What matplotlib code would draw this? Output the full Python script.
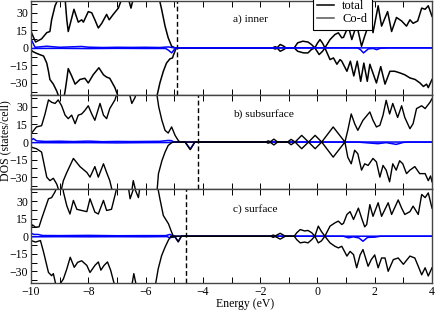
import matplotlib
matplotlib.use("Agg")
import matplotlib.pyplot as plt
from matplotlib.lines import Line2D
from matplotlib.ticker import MultipleLocator

plt.rcParams['font.family'] = ['Liberation Serif', 'DejaVu Serif']

# ---------------- data (energy eV, DOS) ----------------
# panel a) inner
a_total_up = [(-10, 14), (-9.84, 5), (-9.63, 7.7), (-9.45, 13), (-9.34, 14), (-9.28, 24), (-9.16, 36),
              (-9.05, 42), (-8.93, 50), (-8.81, 42), (-8.75, 24), (-8.70, 14), (-8.50, 33), (-8.35, 22),
              (-8.23, 24), (-8.17, 22), (-8.00, 31), (-7.88, 30), (-7.77, 24), (-7.65, 17), (-7.53, 21),
              (-7.36, 28.6), (-7.27, 24), (-7.13, 28.6), (-6.95, 34), (-6.83, 42), (-6.72, 50), (-6.60, 42),
              (-6.51, 34), (-6.43, 42), (-6.0, 60), (-5.55, 45), (-5.44, 33), (-5.32, 18.6), (-5.21, 8.6),
              (-5.09, 1.4), (-4.97, 0), (-1.56, 0), (-1.48, 1), (-1.40, 0.3), (-1.30, 2.9), (-1.18, 1.5),
              (-1.10, 0), (-0.81, 0), (-0.69, 4.3), (-0.51, 5.7), (-0.33, 5), (-0.21, 2.9), (-0.09, 0),
              (0.0, 4), (0.09, 7.1), (0.18, 4), (0.26, 0), (0.44, 7.1), (0.61, 11.4), (0.73, 12.9),
              (0.85, 8.6), (0.91, 9), (1.08, 18.6), (1.20, 7.1), (1.37, 20), (1.54, 1.4), (1.65, 10),
              (1.72, 15), (1.83, 37), (1.94, 13), (2.12, 36), (2.24, 18.6), (2.45, 31), (2.59, 14),
              (2.76, 26), (2.94, 23), (3.11, 18.6), (3.23, 24), (3.34, 21), (3.50, 23), (3.64, 34),
              (3.76, 33), (3.87, 36), (4.0, 27)]
a_total_dn = [(-10, -1.4), (-9.95, -3), (-9.84, -4.3), (-9.70, -5.7), (-9.56, -7), (-9.45, -13),
              (-9.39, -20), (-9.34, -27), (-9.22, -31), (-9.10, -37), (-8.98, -45), (-8.87, -45),
              (-8.81, -37), (-8.75, -27), (-8.70, -17.7), (-8.58, -24), (-8.46, -31), (-8.29, -27),
              (-8.12, -26), (-8.00, -30), (-7.83, -23), (-7.63, -17), (-7.47, -23), (-7.36, -25),
              (-7.25, -26), (-7.07, -34), (-6.95, -42), (-6.5, -60), (-5.8, -60), (-5.61, -42),
              (-5.50, -30), (-5.38, -20), (-5.27, -13), (-5.15, -9.4), (-5.06, -8.6), (-5.02, -5.7),
              (-4.95, -1.4), (-4.92, 0), (-1.56, 0), (-1.48, -1), (-1.40, -0.3), (-1.30, -2.9),
              (-1.18, -1.5), (-1.10, 0), (-0.81, 0), (-0.69, -2.9), (-0.48, -4.3), (-0.33, -4.3),
              (-0.21, -1.4), (-0.09, 0), (0.06, -5.7), (0.18, -2.9), (0.26, 0), (0.44, -10), (0.56, -8.6),
              (0.68, -14), (0.79, -10), (0.85, -11.4), (1.03, -20), (1.15, -11.4), (1.27, -24),
              (1.39, -11.4), (1.51, -28.6), (1.62, -13), (1.74, -28.6), (1.83, -14), (2.06, -30),
              (2.21, -16), (2.36, -31), (2.53, -20), (2.70, -20), (2.88, -21.4), (3.05, -23),
              (3.23, -25.7), (3.41, -27), (3.58, -30), (3.70, -33), (3.81, -31), (3.87, -34), (4.0, -27)]
a_cod_up = [(-10, 7.7), (-9.86, 0.5), (-9.45, 1.4), (-9.0, 0.5), (-8.23, 1.2), (-8.0, 0.6), (-7.5, 0.3),
            (-7.0, 0.5), (-6.5, 0.4), (-6.0, 0.5), (-5.5, 0.3), (-5.2, 0.8), (-5.0, 0), (4.0, 0)]
a_cod_dn = [(-10, -0.5), (-9.0, -0.4), (-8.0, -0.6), (-7.0, -0.4), (-6.0, -0.5), (-5.3, -0.5),
            (-5.2, -2), (-5.09, -4.3), (-5.0, -1.5), (-4.92, 0), (1.40, 0), (1.50, -1.5), (1.61, -4.3),
            (1.78, -0.8), (1.95, -0.5), (2.07, -1.5), (2.2, -0.3), (2.5, 0), (4.0, 0)]

# panel b) subsurface
b_total_up = [(-10, 7), (-9.81, 12.9), (-9.63, 14), (-9.51, 24), (-9.39, 36), (-9.28, 34), (-9.16, 33),
              (-9.05, 36), (-8.93, 31), (-8.81, 23), (-8.70, 20), (-8.58, 23), (-8.46, 15.7), (-8.35, 23),
              (-8.23, 24), (-8.12, 27), (-8.00, 31), (-7.88, 24), (-7.77, 18.6), (-7.59, 33), (-7.47, 23),
              (-7.36, 20), (-7.25, 28.6), (-7.07, 36), (-6.95, 45), (-6.8, 55), (-6.6, 45), (-6.48, 33),
              (-6.37, 38), (-6.25, 48), (-6.0, 60), (-5.65, 48), (-5.54, 30), (-5.43, 18.6), (-5.32, 10),
              (-5.21, 7.7), (-5.09, 12.9), (-4.97, 5.7), (-4.85, 1), (-4.79, 0), (-1.80, 0), (-1.72, 1),
              (-1.64, 0.3), (-1.52, 2.5), (-1.39, 0), (-1.04, 0), (-0.92, 2.3), (-0.78, 0), (-0.55, 5.7),
              (-0.31, 0), (-0.08, 5.7), (0.15, 0), (0.55, 12.9), (0.96, 0), (1.06, 10), (1.18, 24),
              (1.30, 15.7), (1.41, 10), (1.59, 18.6), (1.83, 25.7), (1.94, 18.6), (2.06, 12.9),
              (2.18, 14.3), (2.29, 22.9), (2.40, 35.7), (2.52, 24), (2.63, 33), (2.80, 21), (2.94, 31),
              (3.05, 21), (3.23, 11.4), (3.34, 15.7), (3.46, 28.6), (3.64, 31), (3.76, 28.6), (3.93, 34),
              (4.0, 37)]
b_total_dn = [(-10, -4.3), (-9.81, -5.7), (-9.63, -8.6), (-9.45, -30), (-9.34, -33), (-9.22, -31),
              (-9.10, -36), (-8.98, -45), (-8.87, -33), (-8.75, -26), (-8.52, -14), (-8.29, -21),
              (-8.05, -26), (-7.94, -30), (-7.77, -21), (-7.65, -30), (-7.47, -18.6), (-7.36, -26),
              (-7.25, -33), (-7.13, -45), (-6.8, -60), (-6.5, -45), (-6.43, -33), (-6.31, -45),
              (-6.0, -60), (-5.61, -45), (-5.55, -27), (-5.43, -16), (-5.32, -8.6), (-5.21, -2.9),
              (-5.09, -0.6), (-5.03, 0), (-4.62, 0), (-4.44, -6.5), (-4.28, 0), (-1.80, 0), (-1.72, -1),
              (-1.64, -0.3), (-1.52, -2.5), (-1.39, 0), (-1.04, 0), (-0.92, -2.3), (-0.78, 0),
              (-0.55, -5.7), (-0.31, 0), (-0.08, -5.7), (0.15, 0), (0.55, -12.9), (0.96, 0), (1.06, -13),
              (1.18, -18.6), (1.30, -7), (1.41, -10), (1.54, -24), (1.65, -18.6), (1.77, -20),
              (1.94, -14), (2.06, -17), (2.18, -30), (2.29, -20), (2.40, -24), (2.52, -34), (2.63, -18.6),
              (2.75, -24), (2.87, -16), (2.98, -18.6), (3.11, -27), (3.23, -24), (3.40, -21), (3.57, -27),
              (3.76, -27), (3.87, -33), (3.95, -29), (4.0, -34)]
b_cod_up = [(-10, 1.5), (-9.92, 2.9), (-9.8, 1), (-9.5, 0.5), (-9.0, 0.7), (-8.5, 0.4), (-8.0, 0.8),
            (-7.5, 0.3), (-7.0, 0.5), (-6.5, 0.4), (-6.0, 0.5), (-5.5, 0.6), (-5.2, 1.4), (-5.1, 1.2),
            (-5.0, 0), (4.0, 0)]
b_cod_dn = [(-10, -0.5), (-9.0, -0.6), (-8.0, -0.5), (-7.0, -0.7), (-6.0, -0.5), (-5.2, -0.4),
            (-5.0, 0), (-4.62, 0), (-4.44, -6.0), (-4.28, 0), (1.40, 0), (1.70, -0.6), (2.11, -1.4),
            (2.40, -0.5), (2.75, -2), (3.0, -0.3), (3.2, 0), (4.0, 0)]

# panel c) surface
c_total_up = [(-10, 6.3), (-9.95, 9.7), (-9.84, 7.7), (-9.72, 8), (-9.63, 14.9), (-9.39, 32), (-9.28, 33),
              (-9.16, 38), (-9.05, 45), (-8.90, 50), (-8.87, 38), (-8.75, 26), (-8.64, 19), (-8.52, 30.6),
              (-8.40, 23), (-8.23, 22), (-8.05, 21), (-7.94, 32), (-7.77, 20.6), (-7.65, 19), (-7.47, 30.6),
              (-7.36, 22), (-7.19, 23), (-7.04, 37.7), (-6.95, 48), (-6.65, 50), (-6.54, 32), (-6.40, 42),
              (-6.25, 33), (-6.15, 50), (-6.0, 60), (-5.6, 45), (-5.50, 32), (-5.38, 17.7), (-5.20, 10.6),
              (-5.09, 3.4), (-5.03, 0), (-1.62, 0), (-1.55, 1), (-1.47, 0.3), (-1.30, 2.5), (-1.12, 0),
              (-0.81, 0), (-0.72, 3), (-0.60, 5.7), (-0.45, 4.5), (-0.33, 4.9), (-0.20, 3), (-0.09, 0),
              (0.03, 8.6), (0.14, 4), (0.26, 0), (0.44, 8.6), (0.61, 11.4), (0.73, 12.9), (0.85, 10),
              (0.91, 11), (1.03, 18.6), (1.14, 21), (1.26, 14.3), (1.43, 24), (1.54, 15.7), (1.65, 8),
              (1.72, 10), (1.83, 27), (1.94, 17), (2.12, 28.6), (2.24, 17), (2.47, 28.6), (2.59, 18.6),
              (2.82, 31), (2.94, 24), (3.05, 18.6), (3.23, 21), (3.34, 25.7), (3.52, 18.6), (3.64, 35.7),
              (3.76, 33), (3.87, 37), (4.0, 24)]
c_total_dn = [(-10, -3.7), (-9.84, -5), (-9.67, -3.7), (-9.56, -13.7), (-9.39, -31), (-9.28, -33.7),
              (-9.22, -32), (-9.10, -45), (-8.87, -36.6), (-8.75, -28), (-8.63, -18), (-8.49, -26.6),
              (-8.37, -22.3), (-8.23, -21), (-8.05, -25), (-7.94, -31), (-7.77, -25), (-7.65, -22),
              (-7.56, -29), (-7.45, -25), (-7.33, -22), (-7.22, -29), (-7.05, -45), (-6.7, -60),
              (-6.50, -45), (-6.41, -32), (-6.30, -45), (-6.0, -60), (-5.68, -45), (-5.56, -28),
              (-5.44, -16.6), (-5.32, -9.4), (-5.21, -3.7), (-5.12, 0), (-5.05, -1), (-4.98, 0),
              (-4.86, -4.9), (-4.75, 0), (-1.62, 0), (-1.55, -1), (-1.47, -0.3), (-1.30, -2.5),
              (-1.12, 0), (-0.81, 0), (-0.72, -3), (-0.60, -5.7), (-0.45, -5), (-0.33, -5.7),
              (-0.20, -3), (-0.09, 0), (0.03, -5.7), (0.14, -4), (0.26, 0), (0.44, -5.7), (0.61, -8.6),
              (0.73, -10), (0.85, -8.6), (1.03, -17), (1.14, -13), (1.26, -15.7), (1.37, -27),
              (1.49, -16), (1.59, -11.4), (1.77, -25.7), (1.88, -20), (2.00, -16), (2.12, -27),
              (2.24, -18.6), (2.36, -18.6), (2.47, -30), (2.65, -20), (2.82, -18.6), (3.00, -24),
              (3.23, -17), (3.40, -18.6), (3.52, -25.7), (3.64, -33), (3.76, -27), (3.87, -34), (4.0, -27)]
c_cod_up = [(-10, 2.6), (-9.9, 1.5), (-9.75, 1.5), (-9.6, 0.6), (-9.0, 0.5), (-8.0, 0.7), (-7.0, 0.4),
            (-6.0, 0.5), (-5.3, 0.5), (-5.15, 1.5), (-5.05, 0.5), (-4.98, 0), (4.0, 0)]
c_cod_dn = [(-10, -0.5), (-9.0, -0.4), (-8.0, -0.5), (-7.0, -0.4), (-6.0, -0.5), (-5.25, -0.3),
            (-5.15, -1.5), (-5.05, -0.3), (-4.98, -0.5), (-4.86, -4.5), (-4.75, 0), (0.90, 0),
            (1.09, -1.4), (1.25, -0.5), (1.45, -1.5), (1.59, -4.3), (1.75, -1), (2.0, -0.8), (2.2, 0),
            (4.0, 0)]

fermi = [-4.90, -4.17, -4.60]
labels = ["a) inner", "b) subsurface", "c) surface"]
xticks = [-10, -8, -6, -4, -2, 0, 2, 4]
yticks = [-30, -15, 0, 15, 30]

panels = [(a_total_up, a_total_dn, a_cod_up, a_cod_dn),
          (b_total_up, b_total_dn, b_cod_up, b_cod_dn),
          (c_total_up, c_total_dn, c_cod_up, c_cod_dn)]

# ---------------- figure ----------------
fig = plt.figure(figsize=(4.36, 3.10), dpi=100)
L, R = 31 / 436, 432 / 436
top_px, bot_px = 0.5, 283
ph = (bot_px - top_px) / 3
axes = []
for i in range(3):
    y0 = 1 - (top_px + (i + 1) * ph) / 310
    ax = fig.add_axes([L, y0, R - L, ph / 310])
    axes.append(ax)

tick_fs = 8.5
lab_fs = 8.2
axis_fs = 8.5

def xy(p):
    return [q[0] for q in p], [q[1] for q in p]

for i, ax in enumerate(axes):
    tu, td, cu, cd = panels[i]
    if i == 0:
        for p in (tu, td):
            ax.plot(*xy(p), color='black', lw=1.1)
        for p in (cu, cd):
            ax.plot(*xy(p), color='#0000ff', lw=1.1)
    else:
        for p in (cu, cd):
            ax.plot(*xy(p), color='#0000ff', lw=1.1)
        for p in (tu, td):
            ax.plot(*xy(p), color='black', lw=1.0)
    ax.axvline(fermi[i], color='black', lw=1.0, ls=(0, (3.5, 2)))
    ax.set_xlim(-10, 4)
    ax.set_ylim(-40, 40.5)
    ax.set_yticks(yticks)
    ax.set_xticks(xticks)
    ax.xaxis.set_minor_locator(MultipleLocator(1))
    ax.yaxis.set_minor_locator(MultipleLocator(7.5))
    ax.tick_params(which='both', direction='in', top=True, bottom=True, left=True, right=False,
                   length=4, width=0.7, labelsize=tick_fs, pad=2)
    if i < 2:
        ax.tick_params(labelbottom=False)
    for s in ax.spines.values():
        s.set_color('#444444')
        s.set_linewidth(1.0)
    ax.text(0.504, 0.80 if i == 0 else 0.79, labels[i], transform=ax.transAxes, fontsize=lab_fs,
            ha='left', va='center')

fig.text(245 / 436, 1 - 304 / 310, "Energy (eV)", fontsize=axis_fs, ha='center', va='center')
fig.text(5 / 436, 1 - 141 / 310, "DOS (states/cell)", rotation=90, fontsize=axis_fs,
         ha='center', va='center')

handles = [Line2D([], [], color='black', lw=1.1), Line2D([], [], color='#555555', lw=1.1)]
leg = axes[0].legend(handles, ["total", "Co-d"], loc='upper left', bbox_to_anchor=(0.703, 1.05),
                     prop={'size': 9}, frameon=True, fancybox=False, framealpha=1, edgecolor='black',
                     handlelength=1.3, handletextpad=0.7, borderpad=0.35, labelspacing=0.1,
                     borderaxespad=0)
leg.get_frame().set_linewidth(0.8)

fig.savefig("out.png", dpi=100)
